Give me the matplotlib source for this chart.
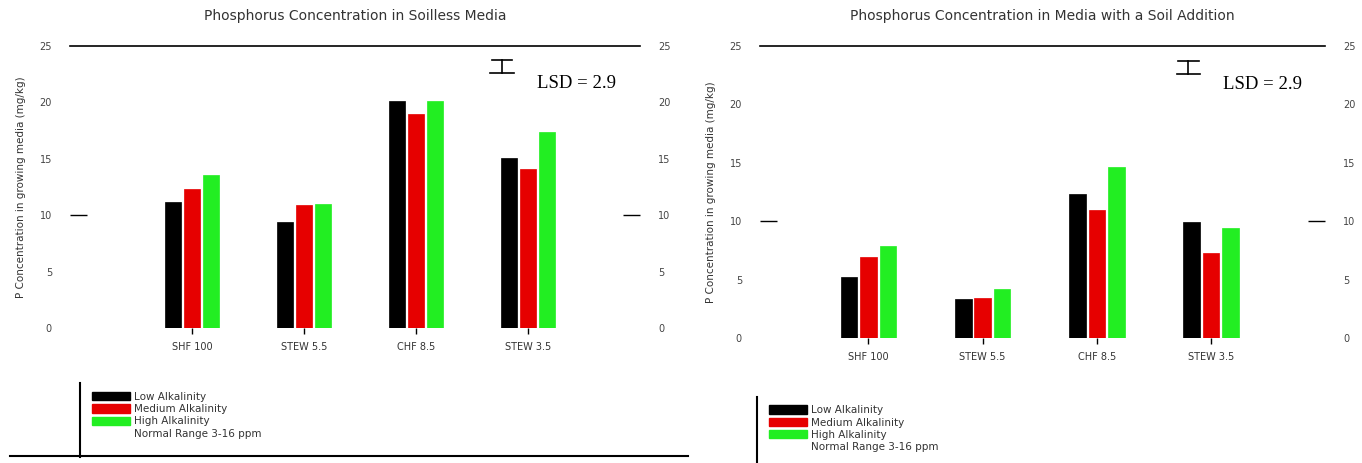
import numpy as np
import matplotlib.pyplot as plt
from matplotlib.lines import Line2D
from matplotlib.patches import Patch

categories = ["SHF 100", "STEW 5.5", "CHF 8.5", "STEW 3.5"]
series_names = ["Low Alkalinity", "Medium Alkalinity", "High Alkalinity"]
colors = ["#000000", "#e60000", "#22ee22"]

soilless_low = [11.2, 9.4, 20.1, 15.1]
soilless_med = [12.3, 10.9, 19.0, 14.1]
soilless_high = [13.6, 11.0, 20.1, 17.4]

soil_low = [5.2, 3.3, 12.3, 9.9]
soil_med = [6.9, 3.4, 11.0, 7.3]
soil_high = [7.9, 4.2, 14.6, 9.4]

lsd = 2.9
yticks = [0, 5, 10, 15, 20, 25]

fig = plt.figure(figsize=(13.62, 4.63), dpi=100)
ax1 = fig.add_axes([0.0514, 0.2916, 0.4185, 0.609])
ax2 = fig.add_axes([0.558, 0.270, 0.4150, 0.6307])


def draw_panel(ax, data, title, xlim, normal_text, leg_x, leg_y):
    x = np.arange(len(categories))
    w = 0.145
    gap = 0.025
    for i, vals in enumerate(data):
        ax.bar(x + (i - 1) * (w + gap), vals, width=w, color=colors[i],
               edgecolor=colors[i], linewidth=0.5)
    ax.set_xlim(*xlim)
    ax.set_ylim(0, 25)
    for s in ["left", "right", "bottom"]:
        ax.spines[s].set_visible(False)
    ax.spines["top"].set_linewidth(1.2)
    ax.set_xticks(x)
    ax.set_xticklabels(categories, fontsize=7, color="#333333")
    ax.tick_params(axis="x", length=4, width=1, pad=6)
    ax.set_yticks(yticks)
    ax.set_yticklabels([str(t) for t in yticks], fontsize=7, color="#444444")
    ax.tick_params(axis="y", length=0, pad=13, labelright=True)
    # single tick mark at 10 on both sides
    ax.yaxis.remove_overlapping_locs = False
    ax.set_yticks([10], minor=True)
    ax.tick_params(axis="y", which="minor", length=12, width=1, left=True, right=True,
                   direction="in")
    ax.set_ylabel("P Concentration in growing media (mg/kg)", fontsize=7.5,
                  color="#333333", labelpad=10)
    ax.set_title(title, fontsize=10, color="#333333", pad=19)

    # LSD marker
    tr = ax.transAxes
    ax.plot([0.74, 0.776], [0.95, 0.95], color="black", lw=1.2, transform=tr, clip_on=False)
    ax.plot([0.758, 0.758], [0.95, 0.905], color="black", lw=1.2, transform=tr, clip_on=False)
    ax.plot([0.737, 0.779], [0.905, 0.905], color="black", lw=1.2, transform=tr, clip_on=False)
    ax.text(0.819, 0.868, f"LSD = {lsd}", transform=tr, fontsize=13.5,
            family="Liberation Serif", va="center", ha="left")

    handles = [Patch(facecolor=c, edgecolor=c) for c in colors]
    handles.append(Patch(facecolor="none", edgecolor="none"))
    labels = series_names + [normal_text]
    fig.legend(handles, labels, loc="upper left", bbox_to_anchor=(leg_x, leg_y),
               frameon=False, fontsize=7.5, handlelength=3.6, handleheight=0.85,
               labelspacing=0.22, handletextpad=0.4, borderpad=0,
               labelcolor="#333333")


draw_panel(ax1, [soilless_low, soilless_med, soilless_high],
           "Phosphorus Concentration in Soilless Media", (-1.09, 4.0),
           "Normal Range 3-16 ppm", 0.064, 0.165)
draw_panel(ax2, [soil_low, soil_med, soil_high],
           "Phosphorus Concentration in Media with a Soil Addition", (-0.95, 4.0),
           "Normal Range 3-16 ppm", 0.561, 0.136)

# legend frame lines
fig.add_artist(Line2D([80 / 1362, 80 / 1362], [1 - 383 / 463, 1 - 457 / 463],
                      color="black", lw=1.5))
fig.add_artist(Line2D([10 / 1362, 688 / 1362], [1 - 456 / 463, 1 - 456 / 463],
                      color="black", lw=1.5))
fig.add_artist(Line2D([757 / 1362, 757 / 1362], [1 - 397 / 463, 0.0],
                      color="black", lw=1.5))

fig.savefig("out.png", dpi=100)
